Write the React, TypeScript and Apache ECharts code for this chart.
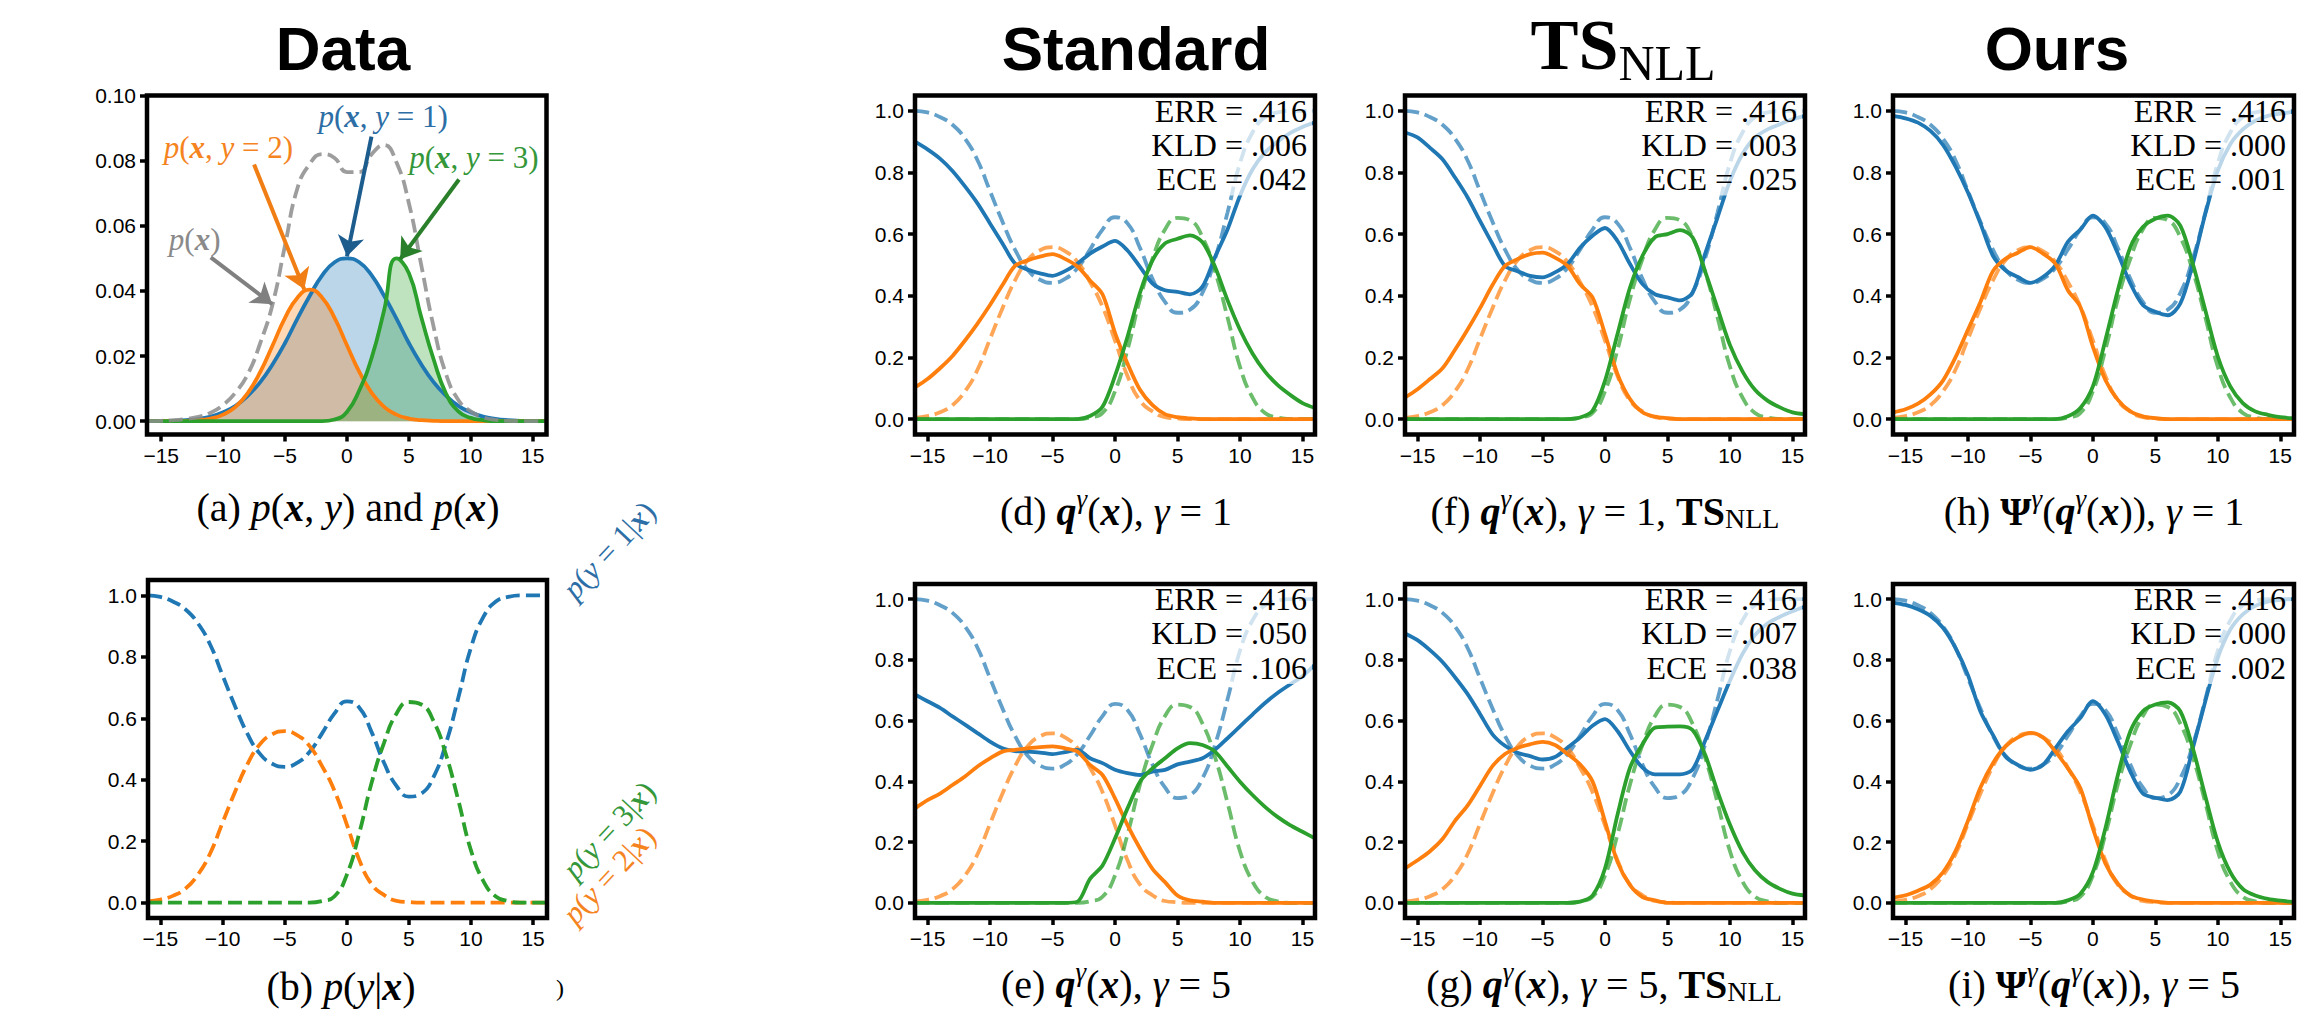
import React, { useEffect, useRef } from 'react';
import * as echarts from 'echarts';

// ---------- x grid shared by every curve ----------
const X = [-16, -15, -14, -13, -12, -11, -10, -9, -8, -7, -6, -5, -4, -3, -2, -1, 0, 1, 2, 3, 4, 5, 6, 7, 8, 9, 10, 11, 12, 13, 14, 15, 16];

const X_TICKS = [-15, -10, -5, 0, 5, 10, 15];
const Y_TICKS = [0, 0.2, 0.4, 0.6, 0.8, 1.0];
const Y_TICKS_A = [0, 0.02, 0.04, 0.06, 0.08, 0.1];

// ---------- panel (a): joint densities ----------
const P_XY1 = [0, 0, 0.0001, 0.0003, 0.0007, 0.0014, 0.0027, 0.0047, 0.0078, 0.012, 0.0175, 0.024, 0.0315, 0.0385, 0.0448, 0.0488, 0.05, 0.0488, 0.0448, 0.0385, 0.0315, 0.024, 0.0175, 0.012, 0.0078, 0.0047, 0.0027, 0.0014, 0.0007, 0.0003, 0.0001, 0, 0];
const P_XY2 = [0, 0, 0, 0.0001, 0.0003, 0.0008, 0.002, 0.0044, 0.0087, 0.0151, 0.0233, 0.0317, 0.0379, 0.0404, 0.0379, 0.0317, 0.0233, 0.0151, 0.0087, 0.0044, 0.002, 0.0008, 0.0003, 0.0001, 0, 0, 0, 0, 0, 0, 0, 0, 0];
const P_XY3 = [0, 0, 0, 0, 0, 0, 0, 0, 0, 0, 0, 0, 0, 0, 0, 0.0005, 0.0028, 0.0095, 0.0195, 0.034, 0.05, 0.0455, 0.032, 0.019, 0.0085, 0.003, 0.001, 0.0003, 0, 0, 0, 0, 0];
const P_X = [0, 0.0001, 0.0003, 0.0007, 0.0013, 0.0026, 0.005, 0.0088, 0.0145, 0.024, 0.036, 0.054, 0.0715, 0.079, 0.082, 0.0808, 0.0765, 0.0765, 0.082, 0.0848, 0.0795, 0.067, 0.048, 0.029, 0.0145, 0.0065, 0.003, 0.0012, 0.0004, 0.0001, 0, 0, 0];

// ---------- ground truth p(y|x) (dashed) ----------
const GT1 = [1.0, 0.995, 0.98, 0.955, 0.91, 0.84, 0.74, 0.64, 0.55, 0.485, 0.452, 0.442, 0.455, 0.49, 0.55, 0.615, 0.655, 0.635, 0.555, 0.455, 0.38, 0.345, 0.355, 0.41, 0.52, 0.67, 0.83, 0.93, 0.98, 0.995, 1.0, 1.0, 1.0];
const GT2 = [0.004, 0.01, 0.022, 0.045, 0.09, 0.16, 0.26, 0.36, 0.45, 0.515, 0.548, 0.558, 0.545, 0.51, 0.445, 0.365, 0.255, 0.14, 0.06, 0.025, 0.006, 0.002, 0, 0, 0, 0, 0, 0, 0, 0, 0, 0, 0];
const GT3 = [0, 0, 0, 0, 0, 0, 0, 0, 0, 0, 0, 0, 0, 0, 0.005, 0.02, 0.09, 0.225, 0.39, 0.52, 0.615, 0.653, 0.645, 0.59, 0.48, 0.33, 0.17, 0.07, 0.02, 0.005, 0, 0, 0];

// ---------- (d) Standard, gamma = 1 ----------
const STD1_B = [0.90, 0.875, 0.845, 0.805, 0.755, 0.70, 0.635, 0.57, 0.505, 0.485, 0.473, 0.465, 0.48, 0.505, 0.537, 0.56, 0.578, 0.547, 0.494, 0.44, 0.418, 0.413, 0.405, 0.43, 0.526, 0.615, 0.725, 0.81, 0.865, 0.9, 0.928, 0.948, 0.963];
const STD1_O = [0.103, 0.13, 0.165, 0.205, 0.255, 0.31, 0.37, 0.435, 0.497, 0.515, 0.527, 0.535, 0.52, 0.495, 0.45, 0.405, 0.28, 0.18, 0.095, 0.045, 0.016, 0.006, 0.002, 0, 0, 0, 0, 0, 0, 0, 0, 0, 0];
const STD1_G = [0, 0, 0, 0, 0, 0, 0, 0, 0, 0, 0, 0, 0, 0, 0.01, 0.04, 0.14, 0.267, 0.41, 0.515, 0.57, 0.585, 0.596, 0.574, 0.494, 0.386, 0.29, 0.213, 0.154, 0.111, 0.079, 0.052, 0.036];

// ---------- (e) Standard, gamma = 5 ----------
const STD5_B = [0.686, 0.664, 0.642, 0.614, 0.587, 0.559, 0.531, 0.509, 0.50, 0.498, 0.495, 0.49, 0.496, 0.504, 0.476, 0.46, 0.438, 0.427, 0.421, 0.432, 0.438, 0.456, 0.465, 0.476, 0.504, 0.542, 0.581, 0.62, 0.658, 0.691, 0.719, 0.746, 0.785];
const STD5_O = [0.311, 0.338, 0.36, 0.388, 0.416, 0.449, 0.476, 0.498, 0.504, 0.509, 0.513, 0.515, 0.509, 0.498, 0.454, 0.421, 0.344, 0.256, 0.179, 0.112, 0.068, 0.024, 0.008, 0.004, 0, 0, 0, 0, 0, 0, 0, 0, 0];
const STD5_G = [0, 0, 0, 0, 0, 0, 0, 0, 0, 0, 0, 0, 0, 0.004, 0.079, 0.123, 0.212, 0.311, 0.399, 0.443, 0.476, 0.509, 0.526, 0.52, 0.498, 0.449, 0.399, 0.355, 0.316, 0.283, 0.256, 0.234, 0.212];

// ---------- (f) TS_NLL, gamma = 1 ----------
const TS1_B = [0.93, 0.914, 0.88, 0.843, 0.784, 0.72, 0.643, 0.568, 0.497, 0.48, 0.465, 0.46, 0.476, 0.503, 0.556, 0.595, 0.62, 0.578, 0.503, 0.438, 0.405, 0.395, 0.385, 0.41, 0.535, 0.654, 0.773, 0.86, 0.914, 0.94, 0.957, 0.973, 0.984];
const TS1_O = [0.07, 0.097, 0.13, 0.165, 0.225, 0.29, 0.36, 0.435, 0.497, 0.519, 0.535, 0.54, 0.524, 0.497, 0.438, 0.395, 0.276, 0.146, 0.065, 0.022, 0.008, 0.003, 0, 0, 0, 0, 0, 0, 0, 0, 0, 0, 0];
const TS1_G = [0, 0, 0, 0, 0, 0, 0, 0, 0, 0, 0, 0, 0, 0, 0.005, 0.027, 0.124, 0.276, 0.427, 0.53, 0.59, 0.60, 0.613, 0.59, 0.48, 0.36, 0.24, 0.155, 0.095, 0.06, 0.038, 0.022, 0.016];

// ---------- (g) TS_NLL, gamma = 5 ----------
const TS5_B = [0.887, 0.865, 0.832, 0.793, 0.743, 0.688, 0.622, 0.555, 0.517, 0.494, 0.483, 0.472, 0.48, 0.511, 0.544, 0.583, 0.605, 0.566, 0.5, 0.445, 0.423, 0.423, 0.423, 0.439, 0.533, 0.633, 0.732, 0.82, 0.882, 0.92, 0.942, 0.96, 0.976];
const TS5_O = [0.113, 0.14, 0.17, 0.21, 0.27, 0.32, 0.385, 0.45, 0.49, 0.51, 0.522, 0.53, 0.52, 0.49, 0.456, 0.40, 0.268, 0.135, 0.058, 0.019, 0.008, 0, 0, 0, 0, 0, 0, 0, 0, 0, 0, 0, 0];
const TS5_G = [0, 0, 0, 0, 0, 0, 0, 0, 0, 0, 0, 0, 0, 0, 0.004, 0.024, 0.113, 0.29, 0.445, 0.522, 0.577, 0.58, 0.581, 0.569, 0.489, 0.367, 0.257, 0.168, 0.107, 0.069, 0.046, 0.03, 0.024];

// ---------- (h) Ours, gamma = 1 ----------
const OUR1_B = [0.984, 0.976, 0.962, 0.935, 0.89, 0.82, 0.735, 0.635, 0.53, 0.483, 0.461, 0.442, 0.461, 0.499, 0.575, 0.615, 0.66, 0.623, 0.537, 0.44, 0.37, 0.348, 0.337, 0.375, 0.504, 0.666, 0.806, 0.892, 0.94, 0.968, 0.984, 0.991, 0.997];
const OUR1_O = [0.022, 0.032, 0.05, 0.08, 0.125, 0.2, 0.29, 0.38, 0.48, 0.52, 0.54, 0.558, 0.537, 0.504, 0.418, 0.364, 0.235, 0.127, 0.0625, 0.025, 0.009, 0.003, 0, 0, 0, 0, 0, 0, 0, 0, 0, 0, 0];
const OUR1_G = [0, 0, 0, 0, 0, 0, 0, 0, 0, 0, 0, 0, 0, 0, 0.009, 0.036, 0.106, 0.256, 0.418, 0.558, 0.623, 0.65, 0.66, 0.628, 0.504, 0.353, 0.203, 0.106, 0.052, 0.025, 0.014, 0.006, 0.003];

// ---------- (i) Ours, gamma = 5 ----------
const OUR5_B = [0.989, 0.981, 0.967, 0.945, 0.906, 0.84, 0.75, 0.63, 0.553, 0.482, 0.454, 0.438, 0.454, 0.509, 0.565, 0.609, 0.664, 0.62, 0.531, 0.432, 0.36, 0.346, 0.338, 0.366, 0.509, 0.664, 0.807, 0.9, 0.95, 0.978, 0.992, 0.998, 1.0];
const OUR5_O = [0.017, 0.025, 0.04, 0.06, 0.1, 0.17, 0.27, 0.38, 0.46, 0.515, 0.545, 0.56, 0.545, 0.498, 0.443, 0.377, 0.245, 0.13, 0.063, 0.024, 0.011, 0.004, 0, 0, 0, 0, 0, 0, 0, 0, 0, 0, 0];
const OUR5_G = [0, 0, 0, 0, 0, 0, 0, 0, 0, 0, 0, 0, 0, 0, 0.008, 0.03, 0.101, 0.245, 0.421, 0.565, 0.631, 0.653, 0.66, 0.631, 0.509, 0.351, 0.2, 0.101, 0.046, 0.024, 0.013, 0.007, 0.003];

// ---------- metric texts ----------
const ERR_VALUES = ['.416', '.416', '.416', '.416', '.416', '.416'];
const KLD_VALUES = ['.006', '.050', '.003', '.007', '.000', '.000'];
const ECE_VALUES = ['.042', '.106', '.025', '.038', '.001', '.002'];

// ---------- annotations of panel (a), in data coordinates ----------
const ANNOT_LABELS = ['1', '2', '3', 'px'];
const ANNOT_TEXT_X = [2.93, -9.57, 10.26, -12.3];
const ANNOT_TEXT_Y = [0.0936, 0.084, 0.081, 0.0558];
const ARROW_X0 = [1.98, -7.5, 9.05, -11.0];
const ARROW_Y0 = [0.0874, 0.0788, 0.0742, 0.0503];
const ARROW_X1 = [0.0, -3.45, 4.3, -6.03];
const ARROW_Y1 = [0.0506, 0.0405, 0.0497, 0.0359];

const BLUE = '#1f77b4';
const ORANGE = '#ff7f0e';
const GREEN = '#2ca02c';
const GRAY = '#8c8c8c';
const ANNOT_COLORS = ['#2c6ea5', '#f5841f', '#34973a', '#8a8a8a'];
const ARROW_COLORS = ['#1c5d8e', '#f07e14', '#2a7f2a', '#808080'];

const SANS = '"Liberation Sans", Arial, sans-serif';
const SERIF = '"Liberation Serif", "Times New Roman", serif';

const LW = 3.8;
const DASH = [14, 6];

// ---------- layout ----------
type Panel = { key: string; left: number; top: number; width: number; height: number; xmin: number; xmax: number; ymin: number; ymax: number };
const PANELS: Panel[] = [
  { key: 'a', left: 147, top: 95.5, width: 399.5, height: 339, xmin: -16.15, xmax: 16.12, ymin: -0.0041, ymax: 0.1 },
  { key: 'b', left: 148, top: 580, width: 399, height: 338, xmin: -16, xmax: 16.12, ymin: -0.05, ymax: 1.05 },
  { key: 'd', left: 915, top: 95.5, width: 400, height: 339, xmin: -16, xmax: 16, ymin: -0.05, ymax: 1.05 },
  { key: 'e', left: 915, top: 584, width: 400, height: 334, xmin: -16, xmax: 16, ymin: -0.05, ymax: 1.05 },
  { key: 'f', left: 1405, top: 95.5, width: 400, height: 339, xmin: -16, xmax: 16, ymin: -0.05, ymax: 1.05 },
  { key: 'g', left: 1405, top: 584, width: 400, height: 334, xmin: -16, xmax: 16, ymin: -0.05, ymax: 1.05 },
  { key: 'h', left: 1893, top: 95.5, width: 401, height: 339, xmin: -16, xmax: 16.1, ymin: -0.05, ymax: 1.05 },
  { key: 'i', left: 1893, top: 584, width: 401, height: 334, xmin: -16, xmax: 16.1, ymin: -0.05, ymax: 1.05 },
];

const SOLIDS: Record<string, number[][]> = {
  d: [STD1_B, STD1_O, STD1_G],
  e: [STD5_B, STD5_O, STD5_G],
  f: [TS1_B, TS1_O, TS1_G],
  g: [TS5_B, TS5_O, TS5_G],
  h: [OUR1_B, OUR1_O, OUR1_G],
  i: [OUR5_B, OUR5_O, OUR5_G],
};

const fmtX = (v: number) => (v < 0 ? '\u2212' + Math.abs(v) : String(v));

function pairs(vals: number[]) {
  return X.map((x, k) => [x, vals[k]]);
}

function lineSeries(gi: number, vals: number[], color: string, o: { dash?: boolean; opacity?: number; smooth?: number; width?: number; z?: number } = {}) {
  return {
    type: 'line',
    xAxisIndex: gi,
    yAxisIndex: gi,
    data: pairs(vals),
    showSymbol: false,
    symbol: 'none',
    smooth: o.smooth ?? 0.3,
    silent: true,
    z: o.z ?? 2,
    lineStyle: { color, width: o.width ?? LW, type: o.dash ? DASH : 'solid', opacity: o.opacity ?? 1, cap: 'butt' },
    itemStyle: { color },
  };
}

function buildOption() {
  const grid = PANELS.map((p) => ({
    left: p.left, top: p.top, width: p.width, height: p.height,
    show: true, borderColor: '#000', borderWidth: 4.5, backgroundColor: 'rgba(0,0,0,0)', z: 10,
  }));
  const xAxis = PANELS.map((p, i) => ({
    type: 'value', gridIndex: i, min: p.xmin, max: p.xmax,
    axisLine: { show: false, onZero: false },
    splitLine: { show: false },
    axisTick: { show: true, length: 7, customValues: X_TICKS, lineStyle: { color: '#000', width: 3.5 } },
    axisLabel: { show: true, customValues: X_TICKS, margin: 10, fontSize: 21, fontFamily: SANS, color: '#000', formatter: fmtX },
  }));
  const yAxis = PANELS.map((p, i) => {
    const ticks = p.key === 'a' ? Y_TICKS_A : Y_TICKS;
    return {
      type: 'value', gridIndex: i, min: p.ymin, max: p.ymax,
      axisLine: { show: false, onZero: false },
      splitLine: { show: false },
      axisTick: { show: true, length: 7, customValues: ticks, lineStyle: { color: '#000', width: 3.5 } },
      axisLabel: {
        show: true, customValues: ticks, margin: 11, fontSize: 21, fontFamily: SANS, color: '#000',
        formatter: (v: number) => v.toFixed(p.key === 'a' ? 2 : 1),
      },
    };
  });

  const series: any[] = [];
  // panel (a) fills
  [[P_XY1, BLUE], [P_XY2, ORANGE], [P_XY3, GREEN]].forEach(([vals, c]) => {
    series.push({
      type: 'line', xAxisIndex: 0, yAxisIndex: 0, data: pairs(vals as number[]), showSymbol: false, symbol: 'none',
      smooth: 0.5, silent: true, z: 1,
      lineStyle: { width: 0, opacity: 0 },
      areaStyle: { color: c as string, opacity: 0.3 },
    });
  });
  series.push(lineSeries(0, P_XY1, BLUE, { smooth: 0.5 }));
  series.push(lineSeries(0, P_XY2, ORANGE, { smooth: 0.5 }));
  series.push(lineSeries(0, P_XY3, GREEN, { smooth: 0.5 }));
  const gray: any = lineSeries(0, P_X, GRAY, { smooth: 0.5, dash: true, opacity: 0.85 });
  gray.markLine = {
    silent: true,
    symbol: ['none', 'arrow'],
    symbolSize: 20,
    label: { show: false },
    lineStyle: { type: 'solid', width: 4 },
    data: ARROW_X0.map((x0, k) => [
      { coord: [x0, ARROW_Y0[k]], lineStyle: { color: ARROW_COLORS[k], type: 'solid', width: 4 }, itemStyle: { color: ARROW_COLORS[k] } },
      { coord: [ARROW_X1[k], ARROW_Y1[k]], itemStyle: { color: ARROW_COLORS[k] } },
    ]),
  };
  series.push(gray);

  // panel (b) ground truth
  series.push(lineSeries(1, GT1, BLUE, { dash: true, smooth: 0.5 }));
  series.push(lineSeries(1, GT2, ORANGE, { dash: true, smooth: 0.5 }));
  series.push(lineSeries(1, GT3, GREEN, { dash: true, smooth: 0.5 }));

  // panels d..i
  PANELS.forEach((p, gi) => {
    const s = SOLIDS[p.key];
    if (!s) return;
    series.push(lineSeries(gi, GT1, BLUE, { dash: true, opacity: 0.7, smooth: 0.5 }));
    series.push(lineSeries(gi, GT2, ORANGE, { dash: true, opacity: 0.7, smooth: 0.5 }));
    series.push(lineSeries(gi, GT3, GREEN, { dash: true, opacity: 0.7, smooth: 0.5 }));
    series.push(lineSeries(gi, s[0], BLUE, { z: 3 }));
    series.push(lineSeries(gi, s[1], ORANGE, { z: 3 }));
    series.push(lineSeries(gi, s[2], GREEN, { z: 3 }));
  });

  return { animation: false, backgroundColor: '#fff', grid, xAxis, yAxis, series };
}

function mathRich(color: string, size: number) {
  return {
    n: { fill: color, fontFamily: SERIF, fontSize: size },
    i: { fill: color, fontFamily: SERIF, fontSize: size, fontStyle: 'italic' },
    bi: { fill: color, fontFamily: SERIF, fontSize: size, fontStyle: 'italic', fontWeight: 'bold' },
    b: { fill: color, fontFamily: SERIF, fontSize: size, fontWeight: 'bold' },
    sup: { fill: color, fontFamily: SERIF, fontSize: Math.round(size * 0.68), fontStyle: 'italic', padding: [0, 0, Math.round(size * 0.6), 0] },
    sub: { fill: color, fontFamily: SERIF, fontSize: Math.round(size * 0.7), padding: [Math.round(size * 0.36), 0, 0, 0] },
  };
}

function mathText(text: string, x: number, y: number, color: string, size: number, rotation = 0) {
  return {
    type: 'text', x, y, rotation, z: 60, silent: true,
    style: { text, align: 'center', verticalAlign: 'middle', rich: mathRich(color, size), fill: color, fontFamily: SERIF, fontSize: size },
  };
}

const TITLES = ['Data', 'Standard', 'Ours'];
const TITLE_X = [343, 1136, 2057];

const CAPTIONS = [
  '{n|(a) }{i|p}{n|(}{bi|x}{n|, }{i|y}{n|) and }{i|p}{n|(}{bi|x}{n|)}',
  '{n|(b) }{i|p}{n|(}{i|y}{n||}{bi|x}{n|)}',
  '{n|(d) }{bi|q}{sup|γ}{n|(}{bi|x}{n|), }{i|γ}{n| = 1}',
  '{n|(e) }{bi|q}{sup|γ}{n|(}{bi|x}{n|), }{i|γ}{n| = 5}',
  '{n|(f) }{bi|q}{sup|γ}{n|(}{bi|x}{n|), }{i|γ}{n| = 1, }{b|TS}{sub|NLL}',
  '{n|(g) }{bi|q}{sup|γ}{n|(}{bi|x}{n|), }{i|γ}{n| = 5, }{b|TS}{sub|NLL}',
  '{n|(h) }{b|Ψ}{sup|γ}{n|(}{bi|q}{sup|γ}{n|(}{bi|x}{n|)), }{i|γ}{n| = 1}',
  '{n|(i) }{b|Ψ}{sup|γ}{n|(}{bi|q}{sup|γ}{n|(}{bi|x}{n|)), }{i|γ}{n| = 5}',
];
const CAPTION_X = [348, 341, 1116, 1116, 1605, 1604, 2094, 2094];
const CAPTION_Y = [507, 986, 511, 984, 511, 984, 511, 984];

const ANNOT_RICH = [
  '{i|p}{n|(}{bi|x}{n|, }{i|y}{n| = 1)}',
  '{i|p}{n|(}{bi|x}{n|, }{i|y}{n| = 2)}',
  '{i|p}{n|(}{bi|x}{n|, }{i|y}{n| = 3)}',
  '{i|p}{n|(}{bi|x}{n|)}',
];

const SIDE_LABELS = [
  '{i|p}{n|(}{i|y}{n| = 1|}{bi|x}{n|)}',
  '{i|p}{n|(}{i|y}{n| = 3|}{bi|x}{n|)}',
  '{i|p}{n|(}{i|y}{n| = 2|}{bi|x}{n|)}',
];
const SIDE_COLORS = ['#2c6ea5', '#34973a', '#f5841f'];
const SIDE_X = [609, 609, 609];
const SIDE_Y = [550, 830, 875];

function buildGraphics(chart: any) {
  const els: any[] = [];
  // column titles
  TITLES.forEach((t, k) => {
    els.push({
      type: 'text', x: TITLE_X[k], y: 48, z: 60, silent: true,
      style: { text: t, align: 'center', verticalAlign: 'middle', fontFamily: SANS, fontWeight: 'bold', fontSize: 62, fill: '#000' },
    });
  });
  els.push({
    type: 'text', x: 1623, y: 45, z: 60, silent: true,
    style: {
      text: '{b|TS}{s|NLL}', align: 'center', verticalAlign: 'middle', fontFamily: SERIF, fontSize: 72, fill: '#000',
      rich: {
        b: { fontFamily: SERIF, fontSize: 72, fontWeight: 'bold', fill: '#000' },
        s: { fontFamily: SERIF, fontSize: 50, fill: '#000', padding: [36, 0, 0, 0] },
      },
    },
  });
  // captions
  CAPTIONS.forEach((c, k) => els.push(mathText(c, CAPTION_X[k], CAPTION_Y[k], '#000', 40)));
  els.push({ type: 'text', x: 560, y: 988, z: 60, silent: true, style: { text: ')', align: 'center', verticalAlign: 'middle', fontFamily: SERIF, fontSize: 24, fill: '#000' } });

  // panel (a) annotations
  ANNOT_LABELS.forEach((_, k) => {
    const pt = chart.convertToPixel({ gridIndex: 0 }, [ANNOT_TEXT_X[k], ANNOT_TEXT_Y[k]]);
    els.push(mathText(ANNOT_RICH[k], pt[0], pt[1], ANNOT_COLORS[k], 31));
  });

  // panel (b) side labels
  SIDE_LABELS.forEach((s, k) => {
    els.push(mathText(s, SIDE_X[k], SIDE_Y[k], SIDE_COLORS[k], 31, (47 * Math.PI) / 180));
  });

  // metric boxes
  let m = 0;
  PANELS.forEach((p) => {
    if (!SOLIDS[p.key]) return;
    const r = p.left + p.width;
    const t = p.top;
    els.push({
      type: 'rect', z: 50, silent: true,
      shape: { x: r - 176, y: t + 3, width: 173, height: 97 },
      style: { fill: 'rgba(255,255,255,0.7)' },
    });
    const lines = ['ERR = ' + ERR_VALUES[m], 'KLD = ' + KLD_VALUES[m], 'ECE = ' + ECE_VALUES[m]];
    lines.forEach((ln, j) => {
      els.push({
        type: 'text', x: r - 8, y: t + 15 + j * 34.4, z: 55, silent: true,
        style: { text: ln, align: 'right', verticalAlign: 'middle', fontFamily: SERIF, fontSize: 32, fill: '#000' },
      });
    });
    m += 1;
  });
  return els;
}

export default function App() {
  const ref = useRef<HTMLDivElement>(null);
  useEffect(() => {
    document.body.style.margin = '0';
    const chart = echarts.init(ref.current!, null, { renderer: 'svg' });
    chart.setOption(buildOption() as any);
    chart.setOption({ graphic: { elements: buildGraphics(chart) } } as any);
    return () => chart.dispose();
  }, []);
  return <div ref={ref} style={{ width: 2305, height: 1014, background: '#fff' }} />;
}
